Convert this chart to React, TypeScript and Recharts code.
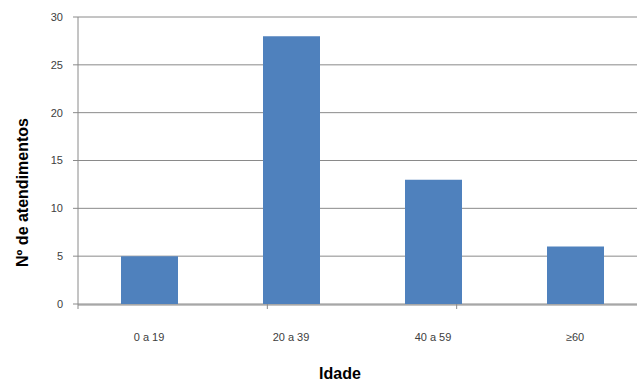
import { BarChart, Bar, XAxis, YAxis, CartesianGrid } from 'recharts';

const faixas = ['0 a 19', '20 a 39', '40 a 59', '≥60'];
const atendimentos = [5, 28, 13, 6];
const yTicks = [0, 5, 10, 15, 20, 25, 30];
const boundaries = [0, 1, 2, 3, 4];

const data = faixas.map((faixa, i) => ({ faixa, atendimentos: atendimentos[i] }));

const font = '"Liberation Sans", Arial, sans-serif';
const axisGray = '#8a8a8a';

function XTitle({ viewBox }: any) {
  const { x, y, width, height } = viewBox;
  return (
    <text x={x + width / 2 - 22} y={y + height - 6} textAnchor="middle" fill="#000" fontSize={16} fontWeight="bold">
      Idade
    </text>
  );
}

function YTitle({ viewBox }: any) {
  const { y, height } = viewBox;
  const cx = 22;
  const cy = y + height / 2 + 32;
  return (
    <text
      x={cx}
      y={cy}
      transform={`rotate(-90, ${cx}, ${cy})`}
      textAnchor="middle"
      dominantBaseline="central"
      fill="#000"
      fontSize={16}
      fontWeight="bold"
    >
      Nº de atendimentos
    </text>
  );
}

// boundary ticks only, no labels
const NoLabel = () => <g />;

export default function App() {
  return (
    <div style={{ position: 'fixed', left: 0, top: 0, width: 637, height: 385, overflow: 'hidden', background: '#fff' }}>
      <BarChart
        width={646}
        height={385}
        data={data}
        margin={{ top: 17, right: 0, left: 0, bottom: 0 }}
        style={{ fontFamily: font }}
      >
        <CartesianGrid vertical={false} stroke={axisGray} />
        <XAxis
          xAxisId="a-edge"
          type="number"
          domain={[0, 4]}
          ticks={boundaries}
          tick={NoLabel}
          tickSize={5}
          tickLine={{ stroke: axisGray }}
          axisLine={false}
          height={1}
        />
        <XAxis
          dataKey="faixa"
          xAxisId="b-cat"
          height={80}
          tickLine={false}
          tickSize={0}
          tickMargin={28}
          axisLine={{ stroke: axisGray }}
          tick={{ fill: '#404040', fontSize: 11 }}
          label={<XTitle />}
        />
        <YAxis
          domain={[0, 30]}
          ticks={yTicks}
          width={78}
          tickSize={5}
          tickMargin={10}
          axisLine={{ stroke: axisGray }}
          tickLine={{ stroke: axisGray }}
          tick={{ fill: '#404040', fontSize: 11 }}
          label={<YTitle />}
        />
        <Bar dataKey="atendimentos" xAxisId="b-cat" fill="#4f81bd" barSize={57} isAnimationActive={false} />
      </BarChart>
    </div>
  );
}
